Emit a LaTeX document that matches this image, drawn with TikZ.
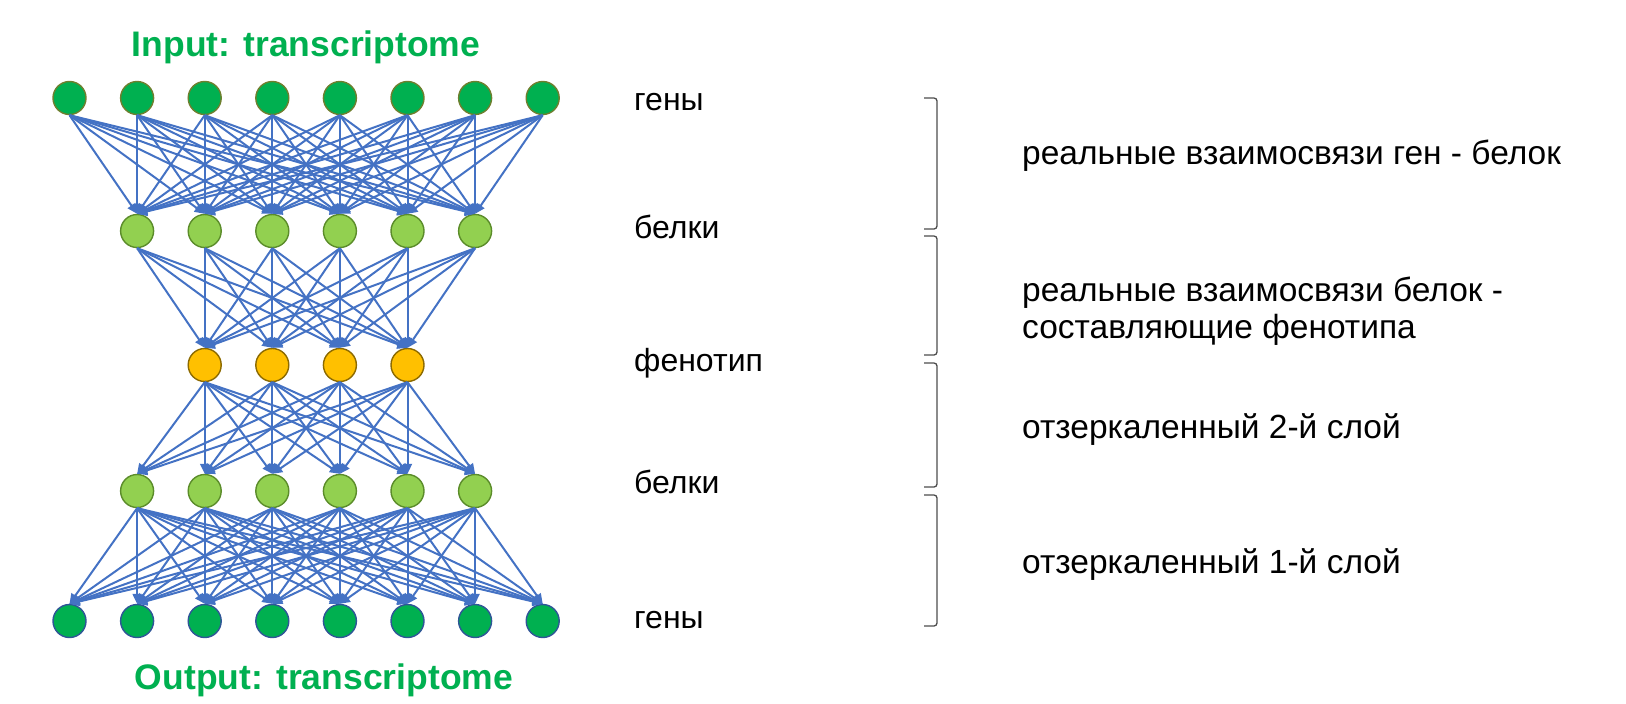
\documentclass[tikz,border=0pt]{standalone}
\usepackage{fontspec}
\setmainfont{Liberation Sans}
\usetikzlibrary{arrows.meta}
\definecolor{genfill}{HTML}{00B050}
\definecolor{genedge}{HTML}{6E7F2E}
\definecolor{outedge}{HTML}{2F5597}
\definecolor{protfill}{HTML}{92D050}
\definecolor{protedge}{HTML}{5B8C2A}
\definecolor{phenfill}{HTML}{FFC000}
\definecolor{phenedge}{HTML}{8C6A00}
\definecolor{linkblue}{HTML}{4472C4}
\definecolor{bracegray}{HTML}{4D4D4D}

\begin{document}
\begin{tikzpicture}[x=1pt, y=-1pt,
    every node/.style={font=\fontsize{32}{38}\selectfont},
    neuron/.style={circle, minimum size=33pt, inner sep=0pt, line width=1.4pt},
    gene/.style={neuron, fill=genfill, draw=genedge},
    outgene/.style={neuron, fill=genfill, draw=outedge},
    prot/.style={neuron, fill=protfill, draw=protedge},
    phen/.style={neuron, fill=phenfill, draw=phenedge},
    link/.style={draw=linkblue, line width=2pt,
                 -{Triangle[length=10pt, width=9pt]}},
    title/.style={font=\fontsize{35.5}{40}\selectfont\bfseries, text=genfill},
    layer/.style={anchor=base west, inner sep=0pt},
    note/.style={anchor=base west, inner sep=0pt,
                 font=\fontsize{33.5}{40}\selectfont},
    bracket/.style={draw=bracegray, line width=1.3pt, rounded corners=3pt}]
  \useasboundingbox (0,0) rectangle (1626,704);

  % network layers
  \foreach \i in {0,...,7}
    \node[gene] (g\i) at ({69.5+67.6*\i}, 98) {};
  \foreach \i in {1,...,6}
    \node[prot] (p\i) at ({69.5+67.6*\i}, 231) {};
  \foreach \i in {2,...,5}
    \node[phen] (f\i) at ({69.5+67.6*\i}, 365) {};
  \foreach \i in {1,...,6}
    \node[prot] (q\i) at ({69.5+67.6*\i}, 491) {};
  \foreach \i in {0,...,7}
    \node[outgene] (o\i) at ({69.5+67.6*\i}, 621) {};

  % connections
  \foreach \i in {0,...,7}
    \foreach \j in {1,...,6}
      \draw[link] (g\i.south) -- (p\j.north);
  \foreach \i in {1,...,6}
    \foreach \j in {2,...,5}
      \draw[link] (p\i.south) -- (f\j.north);
  \foreach \i in {2,...,5}
    \foreach \j in {1,...,6}
      \draw[link] (f\i.south) -- (q\j.north);
  \foreach \i in {1,...,6}
    \foreach \j in {0,...,7}
      \draw[link] (q\i.south) -- (o\j.north);

  \node[title] (intitle) at (306,47) {Input: transcriptome};
  \node[title] (outtitle) at (324,680) {Output: transcriptome};

  % layer names
  \node[layer] (lgen1) at (634,110.5) {гены};
  \node[layer] (lprot1) at (634,238.5) {белки};
  \node[layer] (lphen) at (634,371.5) {фенотип};
  \node[layer] (lprot2) at (634,493.5) {белки};
  \node[layer] (lgen2) at (634,628.5) {гены};

  % brackets
  \draw[bracket] (924,98) -- (937,98) -- (937,229) -- (924,229);
  \draw[bracket] (924,236) -- (937,236) -- (937,355) -- (924,355);
  \draw[bracket] (924,363) -- (937,363) -- (937,487) -- (924,487);
  \draw[bracket] (924,495) -- (937,495) -- (937,626) -- (924,626);

  \node[note] (n1) at (1022,164.5) {реальные взаимосвязи ген - белок};
  \node[note] (n2) at (1022,301.5) {реальные взаимосвязи белок -};
  \node[note] (n2b) at (1022,338.5) {составляющие фенотипа};
  \node[note] (n3) at (1022,438.5) {отзеркаленный 2-й слой};
  \node[note] (n4) at (1022,573.5) {отзеркаленный 1-й слой};
\end{tikzpicture}
\end{document}
